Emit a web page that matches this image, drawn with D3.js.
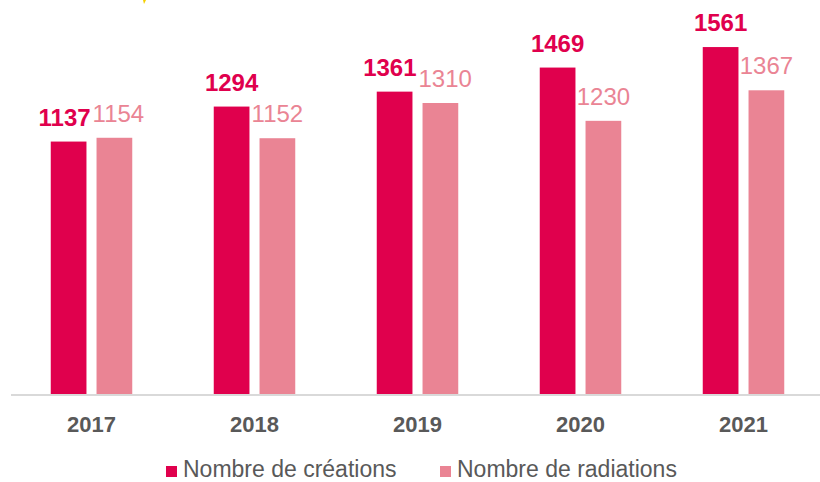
<!DOCTYPE html>
<html>
<head>
<meta charset="utf-8">
<script src="https://cdn.jsdelivr.net/npm/d3@7"></script>
<style>
  body { margin: 0; background: #fff; }
  svg { display: block; font-family: "Liberation Sans", Arial, sans-serif; }
</style>
</head>
<body>
<div id="chart-container"></div>
<script>
// Data
const years = ["2017", "2018", "2019", "2020", "2021"];
const seriesNames = ["Nombre de créations", "Nombre de radiations"];
const creations = [1137, 1294, 1361, 1469, 1561];
const radiations = [1154, 1152, 1310, 1230, 1367];

const colors = ["#E0004D", "#EA8494"];

const createBarChart = () => {
  const svgWidth = 820;
  const svgHeight = 482;

  const svg = d3.select("#chart-container")
    .append("svg")
    .attr("width", svgWidth)
    .attr("height", svgHeight);

  // build rows from the arrays
  const data = years.map((y, i) => ({ year: y, values: [creations[i], radiations[i]] }));

  // scales
  const x0 = d3.scaleBand()
    .domain(years)
    .range([10, 825])
    .paddingInner(0.5)
    .paddingOuter(0.25);

  const x1 = d3.scaleBand()
    .domain([0, 1])
    .range([0, x0.bandwidth()])
    .paddingInner(0.22);

  const yScale = d3.scaleLinear()
    .domain([0, 1600])
    .range([395, 395 - 1600 * 0.2229]);

  // small yellow mark at the top (artifact in the source)
  svg.append("path")
    .attr("d", "M143,0 L146,0 L144,4 Z")
    .attr("fill", "#F5D000");

  // groups per year
  const groups = svg.selectAll("g.year")
    .data(data)
    .join("g")
    .attr("class", "year")
    .attr("transform", d => `translate(${x0(d.year)},0)`);

  groups.selectAll("rect")
    .data(d => d.values.map((v, k) => ({ k, v })))
    .join("rect")
    .attr("x", d => x1(d.k))
    .attr("y", d => yScale(d.v))
    .attr("width", x1.bandwidth())
    .attr("height", d => yScale(0) - 1 - yScale(d.v))
    .attr("fill", d => colors[d.k]);

  // value labels
  groups.selectAll("text.val")
    .data(d => d.values.map((v, k) => ({ k, v })))
    .join("text")
    .attr("class", "val")
    .text(d => d.v)
    .attr("x", d => x1(d.k) + x1.bandwidth() / 2)
    .attr("y", d => yScale(d.v) - 16)
    .attr("text-anchor", "middle")
    .style("font-size", "24px")
    .style("font-weight", d => d.k === 0 ? "bold" : "normal")
    .style("fill", d => colors[d.k]);

  // push the two labels of a year apart when they collide (like Excel does)
  groups.each(function () {
    const labels = d3.select(this).selectAll("text.val").nodes();
    const a = labels[0].getBBox(), b = labels[1].getBBox();
    const vertical = a.y < b.y + b.height && b.y < a.y + a.height;
    const overlap = a.x + a.width + 2 - b.x;
    if (vertical && overlap > 0) {
      d3.select(labels[0]).attr("x", +labels[0].getAttribute("x") - overlap / 2);
      d3.select(labels[1]).attr("x", +labels[1].getAttribute("x") + overlap / 2);
    }
  });

  // x axis line
  svg.append("line")
    .attr("x1", 11)
    .attr("x2", 820)
    .attr("y1", yScale(0))
    .attr("y2", yScale(0))
    .attr("stroke", "#D9D9D9")
    .attr("stroke-width", 2);

  // year labels
  svg.selectAll("text.cat")
    .data(years)
    .join("text")
    .attr("class", "cat")
    .text(d => d)
    .attr("x", d => x0(d) + x0.bandwidth() / 2)
    .attr("y", 432)
    .attr("text-anchor", "middle")
    .style("font-size", "22px")
    .style("font-weight", "bold")
    .style("fill", "#595959");

  // legend
  const legendX = [166, 440];
  const legend = svg.selectAll("g.legend")
    .data(seriesNames)
    .join("g")
    .attr("class", "legend")
    .attr("transform", (d, i) => `translate(${legendX[i]},0)`);

  legend.append("rect")
    .attr("x", 0)
    .attr("y", 466)
    .attr("width", 11)
    .attr("height", 11)
    .attr("fill", (d, i) => colors[i]);

  legend.append("text")
    .text(d => d)
    .attr("x", 17)
    .attr("y", 477)
    .style("font-size", "23px")
    .style("fill", "#595959");
};

createBarChart();
</script>
</body>
</html>
